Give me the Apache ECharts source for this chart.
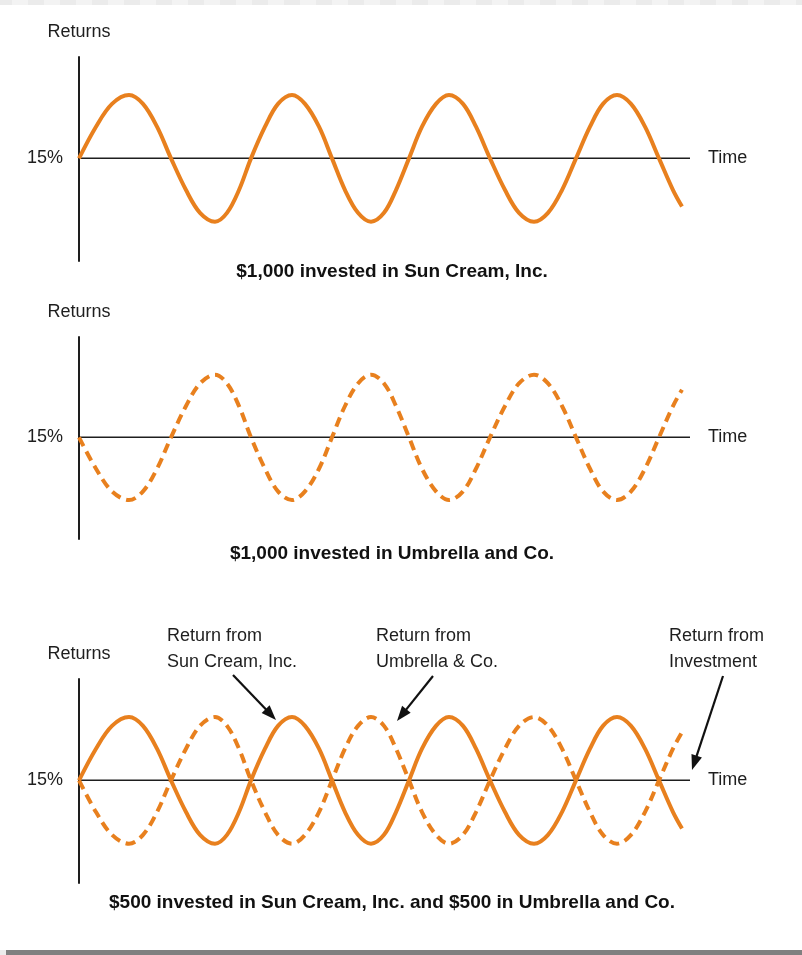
<!DOCTYPE html>
<html>
<head>
<meta charset="utf-8">
<script src="https://cdn.jsdelivr.net/npm/echarts@6/dist/echarts.min.js"></script>
<style>
html,body{margin:0;padding:0;background:#fff;}
#chart{width:802px;height:955px;}
</style>
</head>
<body>
<div id="chart"></div>
<script>
// ---- data ----
// time positions of the sampled points (arbitrary time units)
const timeSteps = [0, 17, 33, 50, 64, 78, 92, 107, 121, 136, 148, 160,
  172, 186, 199, 213, 226, 240, 253, 266, 279, 292, 305, 317,
  330, 343, 357, 370, 384, 397, 411, 426, 440, 455, 469, 483,
  497, 511, 524, 538, 552, 566, 580, 594, 603];
// returns (%) of $1,000 in Sun Cream, Inc.
const sunCream = [15, 17.5, 19.3, 20, 19.3, 17.5, 15, 12.5, 10.7, 10, 10.7, 12.5,
  15, 17.5, 19.3, 20, 19.3, 17.5, 15, 12.5, 10.7, 10, 10.7, 12.5,
  15, 17.5, 19.3, 20, 19.3, 17.5, 15, 12.5, 10.7, 10, 10.7, 12.5,
  15, 17.5, 19.3, 20, 19.3, 17.5, 15, 12.5, 11.2];
// returns (%) of $1,000 in Umbrella and Co.
const umbrella = [15, 12.5, 10.7, 10, 10.7, 12.5, 15, 17.5, 19.3, 20, 19.3, 17.5,
  15, 12.5, 10.7, 10, 10.7, 12.5, 15, 17.5, 19.3, 20, 19.3, 17.5,
  15, 12.5, 10.7, 10, 10.7, 12.5, 15, 17.5, 19.3, 20, 19.3, 17.5,
  15, 12.5, 10.7, 10, 10.7, 12.5, 15, 17.5, 18.8];
// reference level (15%) over the whole time span
const baseTime = [0, 611];
const baseReturn = [15, 15];
const yTicks = [15];
const panelTitles = [
  '$1,000 invested in Sun Cream, Inc.',
  '$1,000 invested in Umbrella and Co.',
  '$500 invested in Sun Cream, Inc. and $500 in Umbrella and Co.'
];
const annotations = [
  'Return from\nSun Cream, Inc.',
  'Return from\nUmbrella & Co.',
  'Return from\nInvestment'
];

// ---- styling ----
const FONT = '"Liberation Sans", Arial, Helvetica, sans-serif';
const ORANGE = '#E8801E';
const INK = '#1e1e1e';

const pairs = (xs, ys) => xs.map((x, i) => [x, ys[i]]);

const grids = [
  {left: 79, width: 611, top: 57, height: 204},
  {left: 79, width: 611, top: 337, height: 202},
  {left: 79, width: 611, top: 679, height: 204}
];

const xAxes = grids.map((g, i) => ({
  type: 'value', gridIndex: i, min: 0, max: 611, show: false
}));
const yAxes = grids.map((g, i) => ({
  type: 'value', gridIndex: i, min: 6.9, max: 23,
  name: 'Returns', nameLocation: 'end', nameGap: 16,
  nameTextStyle: {fontSize: 18, color: INK, fontFamily: FONT},
  axisLine: {show: true, lineStyle: {color: INK, width: 2}},
  axisTick: {show: false},
  splitLine: {show: false},
  axisLabel: {customValues: yTicks, formatter: '{value}%', fontSize: 18, color: INK, fontFamily: FONT, margin: 16}
}));

function baseSeries(i) {
  return {
    type: 'line', xAxisIndex: i, yAxisIndex: i, z: 1,
    data: pairs(baseTime, baseReturn), symbol: 'none', silent: true,
    lineStyle: {color: INK, width: 1.5},
    endLabel: {show: true, formatter: 'Time', distance: 18, fontSize: 18, color: INK, fontFamily: FONT}
  };
}
function curve(i, ys, dashed) {
  return {
    type: 'line', xAxisIndex: i, yAxisIndex: i, z: dashed ? 4 : 3,
    data: pairs(timeSteps, ys), symbol: 'none', smooth: 0.35, silent: true,
    lineStyle: {color: ORANGE, width: 4, type: dashed ? [10, 6] : 'solid', cap: 'butt'}
  };
}

const series = [
  baseSeries(0), curve(0, sunCream, false),
  baseSeries(1), curve(1, umbrella, true),
  baseSeries(2), curve(2, sunCream, false), curve(2, umbrella, true)
];

// decorative frame strips + titles + annotation texts and arrows
const graphic = [];
for (let x = -4, k = 0; x < 802; x += 16, k++) {
  graphic.push({type: 'rect', silent: true, shape: {x: x, y: 0, width: 16, height: 5},
    style: {fill: k % 2 === 0 ? '#ebebeb' : '#f3f3f3'}});
}
graphic.push({type: 'rect', silent: true, shape: {x: 0, y: 950, width: 6, height: 5}, style: {fill: '#ececec'}});
graphic.push({type: 'rect', silent: true, shape: {x: 6, y: 950, width: 796, height: 5}, style: {fill: '#808080'}});

const titleY = [272, 554, 903];
panelTitles.forEach((t, i) => {
  graphic.push({type: 'text', silent: true, x: 392, y: titleY[i],
    style: {text: t, fill: '#111', font: 'bold 19px ' + FONT, textAlign: 'center', textVerticalAlign: 'middle'}});
});

const annX = [167, 376, 669];
annotations.forEach((t, i) => {
  graphic.push({type: 'text', silent: true, x: annX[i], y: 623,
    style: {text: t, fill: INK, font: '18px ' + FONT, lineHeight: 26, textAlign: 'left', textVerticalAlign: 'top'}});
});

function arrow(x1, y1, x2, y2) {
  const dx = x2 - x1, dy = y2 - y1, len = Math.hypot(dx, dy);
  const ux = dx / len, uy = dy / len;
  const hl = 15, hw = 5.5;
  const bx = x2 - ux * hl, by = y2 - uy * hl;
  graphic.push({type: 'line', silent: true, shape: {x1: x1, y1: y1, x2: bx + ux * 2, y2: by + uy * 2},
    style: {stroke: '#111', lineWidth: 2.2}});
  graphic.push({type: 'polygon', silent: true,
    shape: {points: [[x2, y2], [bx - uy * hw, by + ux * hw], [bx + uy * hw, by - ux * hw]]},
    style: {fill: '#111'}});
}
arrow(233, 675, 276, 720);
arrow(433, 676, 397, 721);
arrow(723, 676, 692, 770);

const chart = echarts.init(document.getElementById('chart'), null, {renderer: 'canvas'});
chart.setOption({
  animation: false,
  backgroundColor: '#ffffff',
  grid: grids,
  xAxis: xAxes,
  yAxis: yAxes,
  series: series,
  graphic: graphic
});
</script>
</body>
</html>
